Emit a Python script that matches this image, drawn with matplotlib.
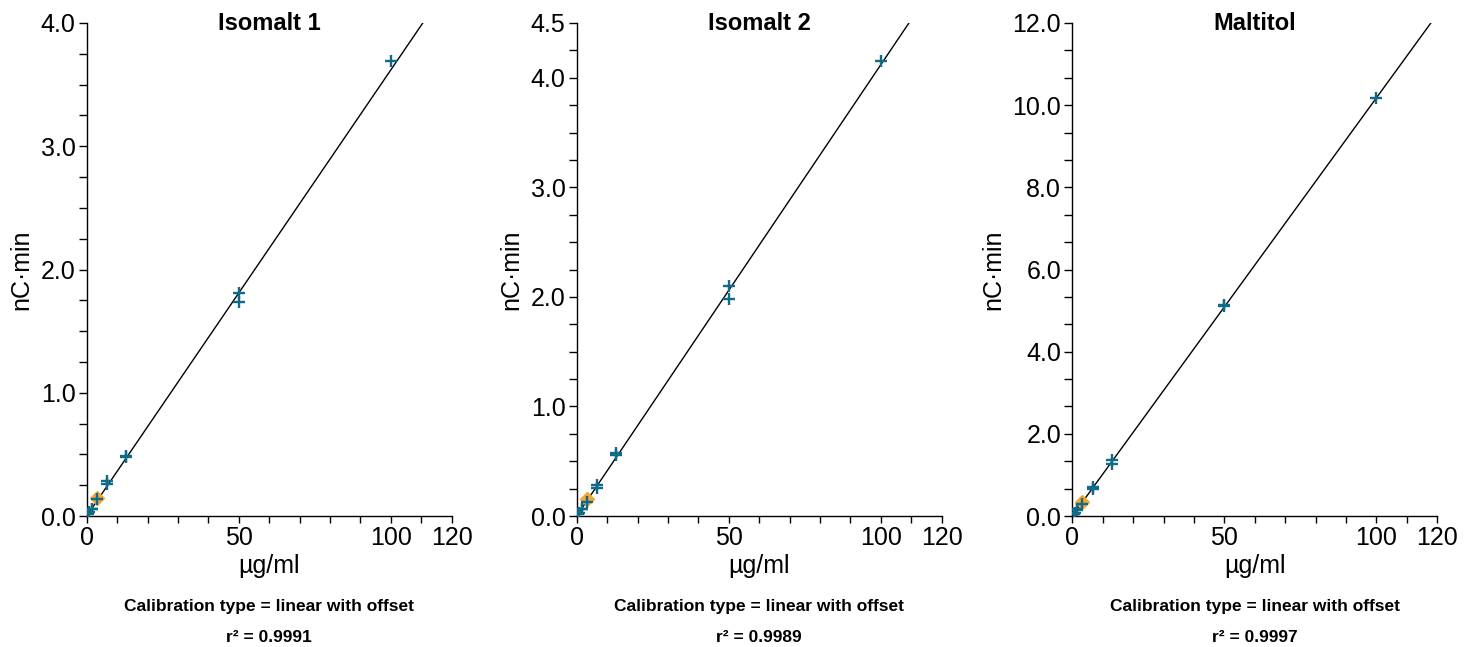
import matplotlib
matplotlib.use("Agg")
import matplotlib.pyplot as plt
from matplotlib.ticker import MultipleLocator, FixedLocator, FormatStrFormatter
import numpy as np

plt.rcParams['font.family'] = ['Liberation Sans', 'DejaVu Sans']

titles = ["Isomalt 1", "Isomalt 2", "Maltitol"]
r2_values = ["0.9991", "0.9989", "0.9997"]

conc = [0.4, 0.8, 1.6, 1.6, 3.25, 6.75, 6.75, 13, 13, 50, 50, 100]
iso1_y = [0.015, 0.03, 0.055, 0.06, 0.135, 0.26, 0.28, 0.48, 0.49, 1.81, 1.74, 3.69]
iso2_y = [0.015, 0.03, 0.06, 0.065, 0.13, 0.26, 0.28, 0.556, 0.571, 2.10, 1.98, 4.15]
malt_y = [0.04, 0.08, 0.15, 0.16, 0.30, 0.66, 0.70, 1.26, 1.375, 5.12, 5.14, 10.17]
series_y = [iso1_y, iso2_y, malt_y]

check_x = [3.25, 3.25, 3.25]
check_y = [0.15, 0.152, 0.33]

slopes = [0.0362, 0.0412, 0.1018]
offsets = [0.0, 0.0, 0.0]

y_max = [4.0, 4.5, 12.0]
y_major = [[0, 1, 2, 3, 4], [0, 1, 2, 3, 4, 4.5], [0, 2, 4, 6, 8, 10, 12]]
y_minor = [0.25, 0.25, 2 / 3]
x_major = [0, 50, 100, 120]

teal = "#0f6b87"
orange = "#f5a531"

fig = plt.figure(figsize=(14.73, 6.47), dpi=100)
lefts = [86.7 / 1473, 576.7 / 1473, 1072.3 / 1473]
width = 365 / 1473
bottom = 1 - 516 / 647
height = (516 - 23) / 647

for i in range(3):
    ax = fig.add_axes([lefts[i], bottom, width, height])
    xs = np.array([0, 120])
    ax.plot(xs, slopes[i] * xs + offsets[i], color="black", lw=1.0, zorder=2)
    ax.plot([check_x[i]], [check_y[i]], marker="D", ms=7, color=orange,
            ls="none", zorder=3)
    ax.plot(conc, series_y[i], marker="+", ms=9, mew=1.7, color=teal,
            ls="none", zorder=4)
    ax.set_xlim(0, 120)
    ax.set_ylim(0, y_max[i])
    for s in ["top", "right"]:
        ax.spines[s].set_visible(False)
    for s in ["left", "bottom"]:
        ax.spines[s].set_linewidth(1.0)
    ax.xaxis.set_major_locator(FixedLocator(x_major))
    ax.xaxis.set_minor_locator(MultipleLocator(10))
    ax.yaxis.set_major_locator(FixedLocator(y_major[i]))
    ax.yaxis.set_minor_locator(MultipleLocator(y_minor[i]))
    ax.yaxis.set_major_formatter(FormatStrFormatter("%.1f"))
    ax.tick_params(axis="x", which="both", length=5, width=1, labelsize=18, pad=2)
    ax.tick_params(axis="y", which="both", length=6, width=1, labelsize=18, pad=2)
    ax.set_xlabel("µg/ml", fontsize=18, labelpad=3)
    ax.set_ylabel("nC·min", fontsize=18, labelpad=5)
    ax.text(0.5, 1.0, titles[i], transform=ax.transAxes, ha="center",
            va="center", fontsize=17, fontweight="bold")
    cx = lefts[i] + width / 2
    fig.text(cx, 1 - 607 / 647, "Calibration type = linear with offset",
             ha="center", va="center", fontsize=12.5, fontweight="bold")
    fig.text(cx, 1 - 637 / 647, "r² = " + r2_values[i],
             ha="center", va="center", fontsize=12.5, fontweight="bold")

fig.savefig("out.png", dpi=100)
